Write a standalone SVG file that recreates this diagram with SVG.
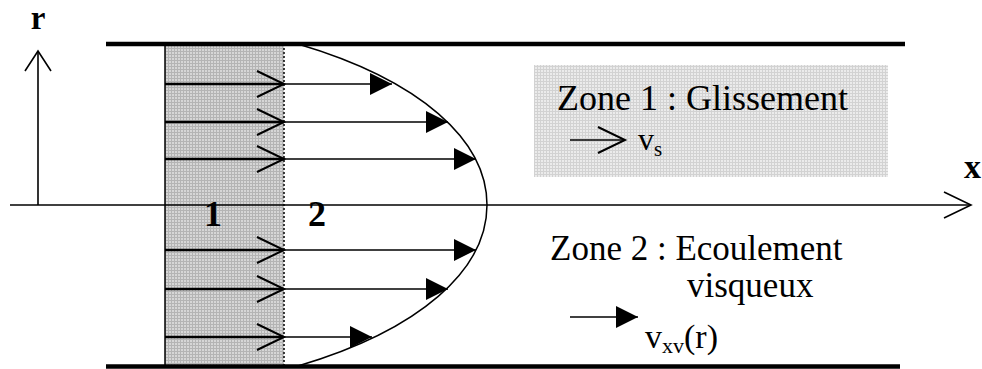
<svg xmlns="http://www.w3.org/2000/svg" width="982" height="369" viewBox="0 0 982 369">
<defs>
<pattern id="grid1" width="3" height="3" patternUnits="userSpaceOnUse">
<rect width="3" height="3" fill="#d6d6d6"/>
<path d="M0,0.5H3M0.5,0V3" stroke="#b4b4b4" stroke-width="1"/>
</pattern>
<pattern id="grid2" width="3" height="3" patternUnits="userSpaceOnUse">
<rect width="3" height="3" fill="#ebebeb"/>
<path d="M0,0.5H3M0.5,0V3" stroke="#d2d2d2" stroke-width="1"/>
</pattern>
<marker id="filled" markerWidth="22" markerHeight="22" refX="22" refY="11" orient="auto" markerUnits="userSpaceOnUse">
<path d="M0,0L22,11L0,22Z" fill="#000"/>
</marker>
</defs>
<style>
.wall{stroke:#000;stroke-width:4.5}
.ax{stroke:#000;stroke-width:1.6;fill:none}
.thick{stroke:#000;stroke-width:2.6;fill:none}
.thin{stroke:#000;stroke-width:1.5;fill:none}
.chev{stroke:#000;stroke-width:2;fill:none}
.t{font-family:"Liberation Serif","Times New Roman",serif;fill:#000}
.b{font-weight:bold}
</style>
<g id="zone1-region">
<rect x="165" y="44" width="119" height="322" fill="url(#grid1)"/>
<line x1="165" y1="44" x2="165" y2="366" class="thin"/>
<line x1="284" y1="44" x2="284" y2="366" stroke="#000" stroke-width="1.5" stroke-dasharray="2,2"/>
</g>
<g id="walls">
<line x1="106" y1="44" x2="905" y2="44" class="wall"/>
<line x1="106" y1="366.5" x2="900" y2="366.5" class="wall"/>
</g>
<g id="profile">
<path d="M298,44 C420,80 487,140 487,205 C487,270 420,330 298,366" class="thin"/>
</g>
<g id="connectors">
<line x1="38" y1="205" x2="38" y2="51" class="ax"/>
<path d="M25,71L38,51L51,71" class="ax"/>
<line x1="10" y1="205" x2="971" y2="205" class="ax"/>
<path d="M944,192L971,205L944,218" class="ax"/>
<g id="slip-arrows">
<line x1="165" y1="84" x2="284" y2="84" class="thick"/>
<line x1="165" y1="122" x2="284" y2="122" class="thick"/>
<line x1="165" y1="159" x2="284" y2="159" class="thick"/>
<line x1="165" y1="250" x2="284" y2="250" class="thick"/>
<line x1="165" y1="289" x2="284" y2="289" class="thick"/>
<line x1="165" y1="337" x2="284" y2="337" class="thick"/>
<path d="M257,71L284,84L257,97M257,109L284,122L257,135M257,146L284,159L257,172M257,237L284,250L257,263M257,276L284,289L257,302M257,324L284,337L257,350" class="chev"/>
</g>
<g id="viscous-arrows">
<line x1="284" y1="84" x2="392" y2="84" class="thin" marker-end="url(#filled)"/>
<line x1="284" y1="122" x2="448" y2="122" class="thin" marker-end="url(#filled)"/>
<line x1="284" y1="159" x2="476" y2="159" class="thin" marker-end="url(#filled)"/>
<line x1="284" y1="250" x2="476" y2="250" class="thin" marker-end="url(#filled)"/>
<line x1="284" y1="289" x2="448" y2="289" class="thin" marker-end="url(#filled)"/>
<line x1="284" y1="337" x2="372" y2="337" class="thin" marker-end="url(#filled)"/>
</g>
</g>
<g id="labels">
<text x="38" y="29" class="t b" font-size="33" text-anchor="middle">r</text>
<text x="964" y="178" class="t b" font-size="34">x</text>
<text x="213" y="226" class="t b" font-size="36" text-anchor="middle">1</text>
<text x="317" y="226" class="t b" font-size="36" text-anchor="middle">2</text>
</g>
<g id="legend1">
<rect x="534" y="65" width="354" height="112" fill="url(#grid2)"/>
<text x="557" y="110" class="t" font-size="36">Zone 1 : Glissement</text>
<line x1="570" y1="140" x2="625" y2="140" class="thin"/>
<path d="M598,127L625,140L598,153" class="chev"/>
<text x="638" y="150" class="t" font-size="32">v<tspan font-size="21" dy="6">s</tspan></text>
</g>
<g id="legend2">
<text x="550" y="260" class="t" font-size="35">Zone 2 : Ecoulement</text>
<text x="687" y="297" class="t" font-size="35">visqueux</text>
<line x1="570" y1="317" x2="638" y2="317" class="thin" marker-end="url(#filled)"/>
<text x="645" y="348" class="t" font-size="34">v<tspan font-size="22" dy="5">xv</tspan><tspan font-size="34" dy="-5">(r)</tspan></text>
</g>
</svg>
